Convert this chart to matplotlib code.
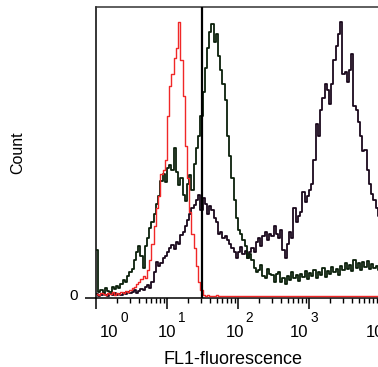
import numpy as np
import matplotlib
matplotlib.use("Agg")
import matplotlib.pyplot as plt
from matplotlib.ticker import LogLocator, NullFormatter
import matplotlib.transforms as mtransforms

plt.rcParams['font.family'] = ['Liberation Sans', 'DejaVu Sans']

# 128 display channels over 4 decades (32 channels per decade)
n_channels = 128
channels_per_decade = 32

control_counts = [
    2, 1, 3, 2, 1, 3, 2, 4, 1, 3, 2, 4, 3, 5, 4, 6,
    8, 9, 12, 14, 17, 20, 18, 26, 36, 52, 70, 88, 100, 122, 126, 136,
    180, 210, 222, 238, 248, 274, 236, 200, 150, 118, 84, 62, 48, 30, 14, 6,
    1, 0, 1, 0, 0, 0, 1, 0, 0, 0, 0, 0, 0, 0, 0, 0,
    0, 0, 0, 0, 0, 0, 0, 0, 0, 0, 0, 0, 0, 0, 0, 0,
    0, 0, 0, 0, 0, 0, 0, 0, 0, 0, 0, 0, 0, 0, 0, 0,
    0, 0, 0, 0, 0, 0, 0, 0, 0, 0, 0, 0, 0, 0, 0, 0,
    0, 0, 0, 0, 0, 0, 0, 0, 0, 0, 0, 0, 0, 0, 0, 0,
]

sample_a_counts = [
    46, 4, 6, 3, 8, 5, 4, 9, 7, 10, 8, 12, 16, 14, 20, 24,
    27, 36, 44, 50, 40, 28, 50, 58, 68, 74, 82, 92, 100, 115, 122, 114,
    128, 131, 126, 148, 124, 111, 118, 101, 95, 112, 121, 106, 132, 148, 160, 180,
    204, 228, 248, 264, 272, 254, 262, 240, 226, 212, 196, 160, 140, 118, 96, 78,
    66, 62, 56, 50, 38, 42, 36, 28, 24, 26, 31, 20, 18, 27, 22, 21,
    14, 22, 24, 14, 18, 12, 20, 16, 24, 18, 21, 15, 22, 19, 25, 17,
    23, 20, 26, 18, 24, 21, 28, 19, 25, 22, 29, 24, 27, 21, 30, 26,
    33, 27, 31, 25, 36, 28, 33, 26, 34, 29, 35, 27, 32, 28, 30, 26,
]

sample_b_counts = [
    2, 0, 1, 2, 1, 0, 2, 1, 3, 1, 2, 1, 3, 2, 4, 3,
    4, 6, 3, 5, 7, 6, 9, 11, 8, 14, 24, 34, 30, 33, 38, 40,
    44, 48, 51, 47, 54, 52, 61, 64, 70, 76, 82, 88, 91, 96, 101, 86,
    98, 92, 82, 90, 86, 78, 74, 62, 64, 58, 60, 56, 52, 48, 44, 38,
    44, 49, 42, 45, 38, 44, 48, 44, 54, 58, 50, 60, 64, 56, 62, 60,
    70, 62, 58, 66, 46, 38, 52, 64, 58, 88, 74, 80, 84, 104, 94, 100,
    106, 112, 136, 172, 160, 186, 198, 212, 206, 192, 212, 236, 250, 262, 274, 222,
    224, 214, 226, 242, 190, 186, 174, 160, 145, 146, 126, 112, 102, 96, 88, 80,
]

gate_position = 31.6
x_tick_values = [1, 10, 100, 1000, 10000]
x_tick_exponents = ['0', '1', '2', '3', '4']
# horizontal offsets (px) of the "10" base text centre and of the exponent centre
base_shift_px = [13, 0, -3, -9.5, -5]
exp_shift_px = [28.5, 14.5, 11.5, 5.5, 9]

channel_index = np.arange(n_channels)
fl1 = 10 ** ((channel_index + 0.5) / channels_per_decade)

W, H = 378, 367
fig = plt.figure(figsize=(W / 100, H / 100), dpi=100)
ax = fig.add_axes([96 / W, 1 - 298 / H, 284 / W, 291 / H])

ax.plot(fl1, sample_a_counts, drawstyle='steps-mid', color='#0b200b', lw=1.3, zorder=3)
ax.plot(fl1, sample_b_counts, drawstyle='steps-mid', color='#1a081c', lw=1.3, zorder=2)
ax.plot(fl1, control_counts, drawstyle='steps-mid', color='#f02828', lw=1.0, zorder=4)
ax.axvline(gate_position, color='black', lw=1.6, zorder=5)

ax.set_xscale('log')
ax.set_xlim(1, 10000)
ax.set_ylim(-2, 289)

ax.set_xticks(x_tick_values)
ax.set_xticklabels([''] * len(x_tick_values))
ax.xaxis.set_minor_locator(LogLocator(base=10, subs=np.arange(2, 10), numticks=20))
ax.xaxis.set_minor_formatter(NullFormatter())
ax.tick_params(axis='x', which='major', length=8, width=1.1, direction='out')
ax.tick_params(axis='x', which='minor', length=3.6, width=1.0, direction='out')

xtrans = ax.get_xaxis_transform()
for xv, ex, bdx, edx in zip(x_tick_values, x_tick_exponents, base_shift_px, exp_shift_px):
    ax.annotate('10', xy=(xv, 0), xycoords=xtrans, xytext=(bdx * 0.72, -39 * 0.72),
                textcoords='offset points', ha='center', va='baseline',
                fontsize=12, annotation_clip=False)
    ax.annotate(ex, xy=(xv, 0), xycoords=xtrans, xytext=(edx * 0.72, -24 * 0.72),
                textcoords='offset points', ha='center', va='baseline',
                fontsize=9.8, annotation_clip=False)

ax.set_yticks([-2])
ax.set_yticklabels(['0'], fontsize=11)
ax.tick_params(axis='y', length=8, width=1.1, pad=5, direction='out')
for lbl in ax.get_yticklabels():
    lbl.set_transform(lbl.get_transform() + mtransforms.ScaledTranslation(0, 3 / 100, fig.dpi_scale_trans))

for side in ['left', 'bottom', 'top']:
    ax.spines[side].set_linewidth(1.1)
ax.spines['top'].set_color('#333333')
ax.spines['right'].set_visible(False)

ax.set_xlabel('FL1-fluorescence', fontsize=13)
ax.xaxis.set_label_coords((233 - 96) / 284, -(351 - 298) / 291)
fig.text(18 / W, 1 - 153 / H, 'Count', rotation=90, ha='center', va='center', fontsize=11.5)

fig.savefig('out.png', dpi=100)
